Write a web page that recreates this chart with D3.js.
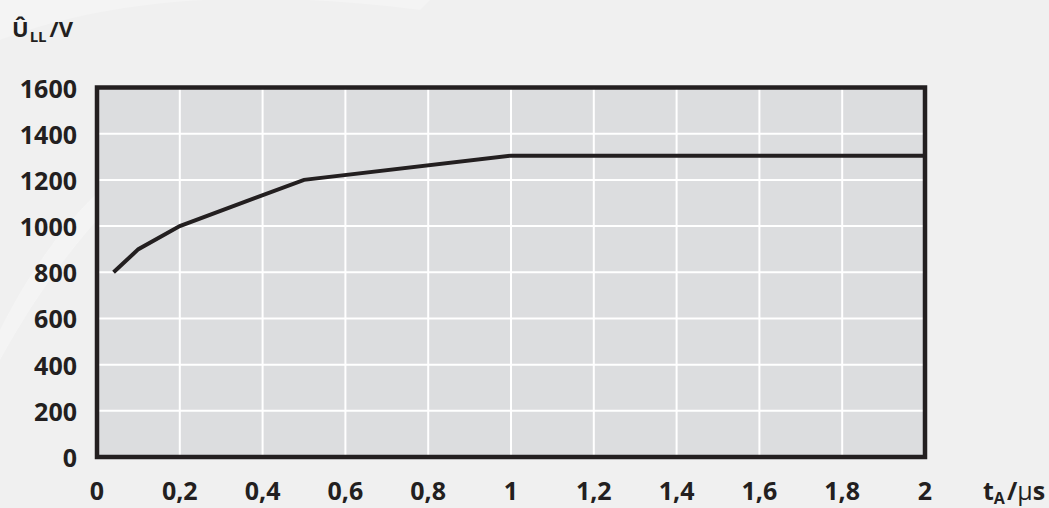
<!DOCTYPE html>
<html>
<head>
<meta charset="utf-8">
<style>
  body { margin: 0; background: #f0f0f0; }
  text { font-family: "Open Sans", "DejaVu Sans", sans-serif; font-weight: bold; fill: #231f20; }
</style>
</head>
<body>
<script src="https://d3js.org/d3.v7.min.js"></script>
<script>
    // t_A in µs vs peak line-to-line voltage in V
    const timeValues = [0.04, 0.1, 0.2, 0.5, 1.0, 2.0];
    const voltageValues = [800, 900, 1000, 1200, 1305, 1305];
    const xTicks = [0, 0.2, 0.4, 0.6, 0.8, 1, 1.2, 1.4, 1.6, 1.8, 2];
    const yTicks = [0, 200, 400, 600, 800, 1000, 1200, 1400, 1600];

    const width = 1049;
    const height = 508;

    const xScale = d3.scaleLinear().domain([0, 2]).range([97, 925]);
    const yScale = d3.scaleLinear().domain([0, 1600]).range([457, 87.5]);

    const svg = d3.select("body")
        .append("svg")
        .attr("width", width)
        .attr("height", height);

    svg.append("rect")
        .attr("width", width)
        .attr("height", height)
        .attr("fill", "#f0f0f0");

    // faint watermark swooshes in the background
    svg.append("path")
        .attr("d", "M0,40 C120,-5 260,-10 420,10 L430,0 L0,0 Z")
        .attr("fill", "#ffffff")
        .attr("opacity", 0.25);
    svg.append("path")
        .attr("d", "M0,330 C40,250 90,190 150,150 L150,170 C100,210 50,270 0,360 Z")
        .attr("fill", "#ffffff")
        .attr("opacity", 0.3);

    svg.append("rect")
        .attr("x", xScale(0))
        .attr("y", yScale(1600))
        .attr("width", xScale(2) - xScale(0))
        .attr("height", yScale(0) - yScale(1600))
        .attr("fill", "#dcdddf");

    // grid
    svg.selectAll("line.vgrid")
        .data(xTicks.slice(1, -1))
        .enter()
        .append("line")
        .attr("class", "vgrid")
        .attr("x1", d => xScale(d))
        .attr("x2", d => xScale(d))
        .attr("y1", yScale(1600))
        .attr("y2", yScale(0))
        .attr("stroke", "#ffffff")
        .attr("stroke-width", 2);

    svg.selectAll("line.hgrid")
        .data(yTicks.slice(1, -1))
        .enter()
        .append("line")
        .attr("class", "hgrid")
        .attr("x1", xScale(0))
        .attr("x2", xScale(2))
        .attr("y1", d => yScale(d))
        .attr("y2", d => yScale(d))
        .attr("stroke", "#ffffff")
        .attr("stroke-width", 2);

    // curve
    const line = d3.line()
        .x((d, i) => xScale(timeValues[i]))
        .y(d => yScale(d));

    svg.append("path")
        .attr("d", line(voltageValues))
        .attr("fill", "none")
        .attr("stroke", "#231f20")
        .attr("stroke-width", 4);

    // frame
    svg.append("rect")
        .attr("x", xScale(0))
        .attr("y", yScale(1600))
        .attr("width", xScale(2) - xScale(0))
        .attr("height", yScale(0) - yScale(1600))
        .attr("fill", "none")
        .attr("stroke", "#231f20")
        .attr("stroke-width", 4.5);

    // tick labels
    svg.selectAll("text.ylab")
        .data(yTicks)
        .enter()
        .append("text")
        .attr("class", "ylab")
        .attr("x", 77)
        .attr("y", d => yScale(d) + 10)
        .attr("text-anchor", "end")
        .attr("font-size", 25)
        .text(d => d);

    svg.selectAll("text.xlab")
        .data(xTicks)
        .enter()
        .append("text")
        .attr("class", "xlab")
        .attr("x", d => xScale(d))
        .attr("y", 500)
        .attr("text-anchor", "middle")
        .attr("font-size", 25)
        .text(d => String(d).replace(".", ","));

    // axis titles
    const yTitle = svg.append("text")
        .attr("x", 12)
        .attr("y", 37)
        .attr("font-size", 22);
    yTitle.append("tspan").text("Û");
    yTitle.append("tspan").attr("font-size", 15).attr("dy", 5).attr("dx", 1).text("LL");
    yTitle.append("tspan").attr("dy", -5).attr("dx", 3).text("/V");

    const xTitle = svg.append("text")
        .attr("x", 983)
        .attr("y", 500)
        .attr("font-size", 25);
    xTitle.append("tspan").text("t");
    xTitle.append("tspan").attr("font-size", 16).attr("dy", 4).text("A");
    xTitle.append("tspan").attr("dy", -4).attr("dx", 2).text("/");
    xTitle.append("tspan").attr("font-weight", "normal").text("µ");
    xTitle.append("tspan").text("s");
</script>
</body>
</html>
